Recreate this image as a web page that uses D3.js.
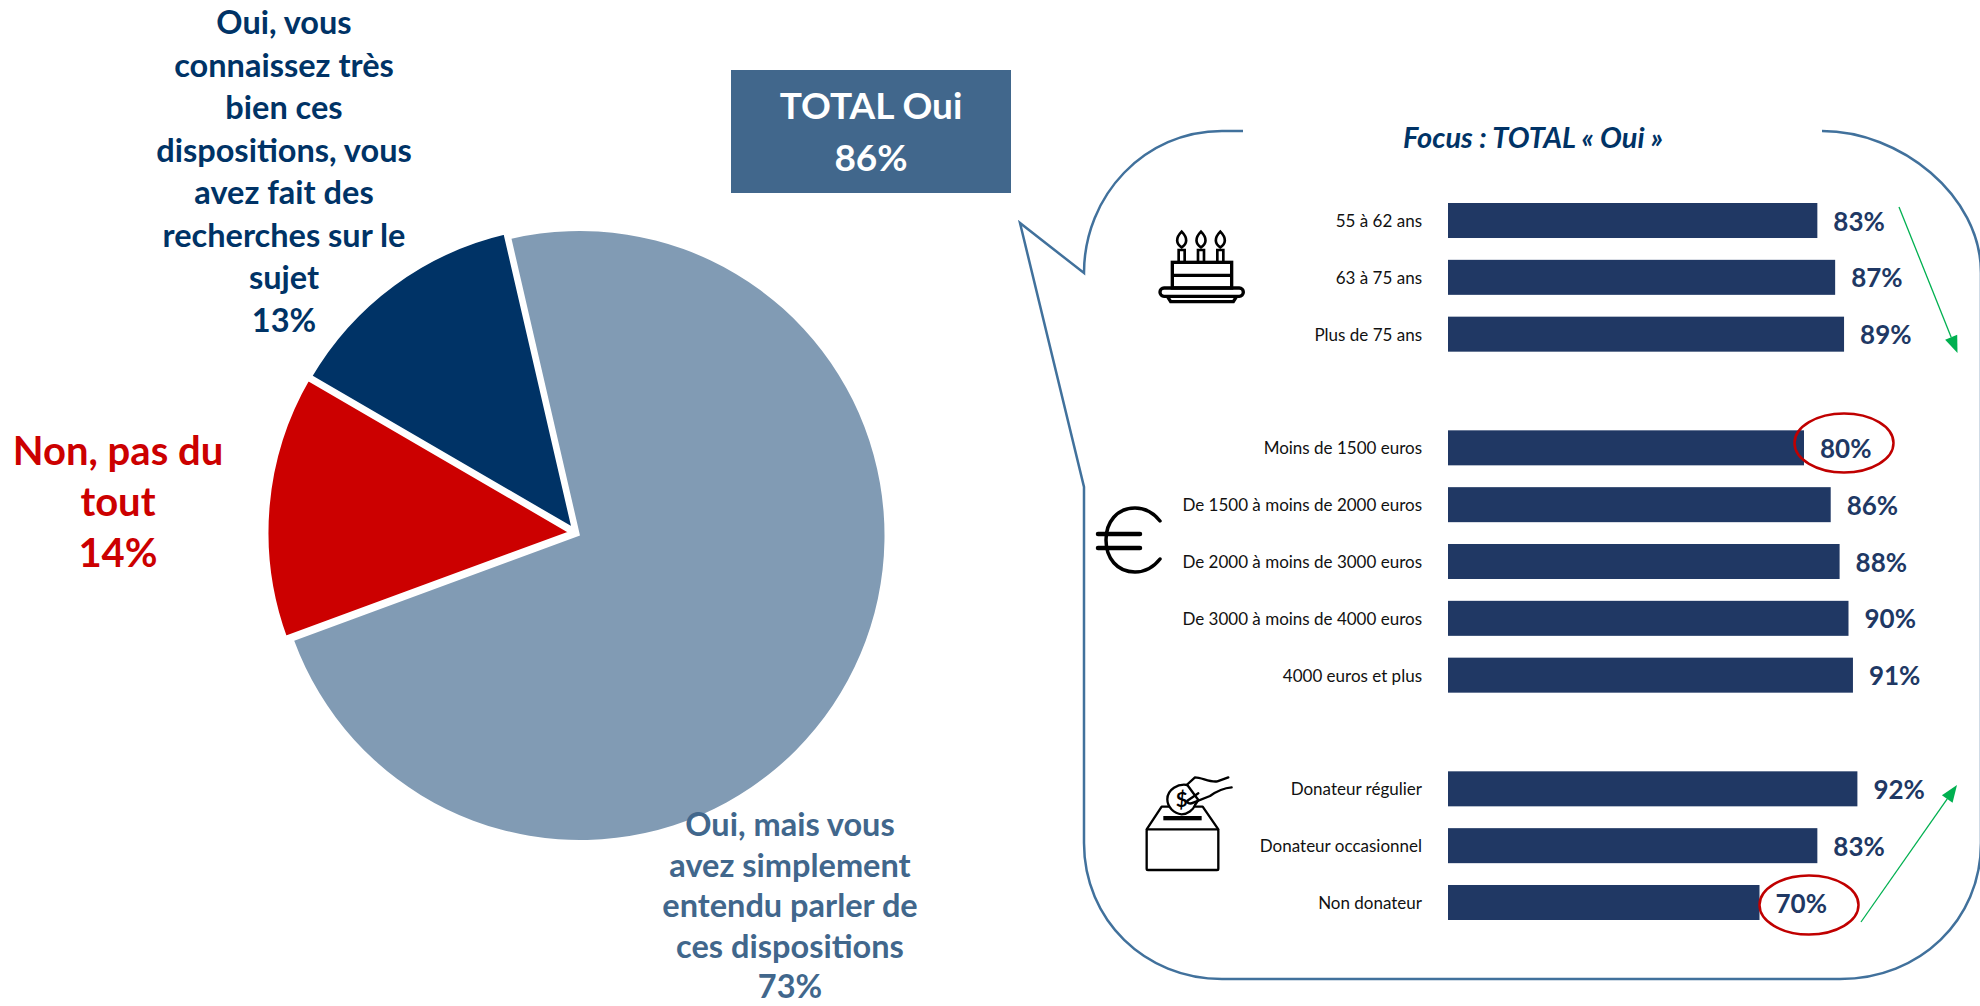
<!DOCTYPE html>
<html lang="fr"><head><meta charset="utf-8">
<script src="https://cdn.jsdelivr.net/npm/d3@7"></script>
<style>html,body{margin:0;background:#fff;overflow:hidden}svg{display:block}text{font-family:Lato,"Open Sans",sans-serif}</style>
</head><body><svg id="c" width="1980" height="1006"></svg>
<script>
const pieLabels = ["Oui, mais vous avez simplement entendu parler de ces dispositions","Non, pas du tout","Oui, vous connaissez très bien ces dispositions, vous avez fait des recherches sur le sujet"];
const pieValues = [73,14,13];
const pieColors = ["#819BB4","#CC0000","#003366"];
const pieLabelLines = [
  ["Oui, mais vous","avez simplement","entendu parler de","ces dispositions","73%"],
  ["Non, pas du","tout","14%"],
  ["Oui, vous","connaissez très","bien ces","dispositions, vous","avez fait des","recherches sur le","sujet","13%"]];
const ageCategories = ["55 à 62 ans","63 à 75 ans","Plus de 75 ans"];
const ageValues = [83,87,89];
const incomeCategories = ["Moins de 1500 euros","De 1500 à moins de 2000 euros","De 2000 à moins de 3000 euros","De 3000 à moins de 4000 euros","4000 euros et plus"];
const incomeValues = [80,86,88,90,91];
const donorCategories = ["Donateur régulier","Donateur occasionnel","Non donateur"];
const donorValues = [92,83,70];
const totalLines = ["TOTAL Oui","86%"];
const focusTitle = "Focus : TOTAL « Oui »";

const svg = d3.select("#c");
/* ---------- pie ---------- */
const cx=580, cy=535.5;
const arcs = d3.pie().sort(null).startAngle(-13*Math.PI/180).endAngle(347*Math.PI/180)(pieValues);
const radius=[304.5,307,307];
const strokeW=[0,5,5];
const explode=[[0,0],[-7,-3],[-5.3,-4.5]];
svg.append("g").attr("transform",`translate(${cx},${cy})`).selectAll("path").data(arcs).join("path")
  .attr("d",(d,i)=>d3.arc().innerRadius(0).outerRadius(radius[i])(d))
  .attr("fill",(d,i)=>pieColors[i]).attr("stroke","#fff").attr("stroke-width",(d,i)=>strokeW[i]).attr("stroke-linejoin","miter")
  .attr("transform",(d,i)=>`translate(${explode[i]})`);
const labelPos=[{x:790,y:825,step:40.5,size:32.5,fill:"#41678C"},{x:118,y:451,step:51,size:40,fill:"#CC0000"},{x:284,y:23,step:42.5,size:32.5,fill:"#003366"}];
pieLabelLines.forEach((lines,i)=>{
  const p=labelPos[i];
  svg.append("g").selectAll("text").data(lines).join("text")
    .attr("x",p.x).attr("y",(d,j)=>p.y+j*p.step).attr("dy",".35em").attr("text-anchor","middle")
    .attr("font-size",p.size).attr("font-weight",700).attr("fill",p.fill).text(d=>d);
});
/* ---------- total box ---------- */
svg.append("rect").attr("x",731).attr("y",70).attr("width",280).attr("height",123).attr("fill","#41678C");
svg.append("g").selectAll("text").data(totalLines).join("text")
  .attr("x",871).attr("y",(d,i)=>106+i*52).attr("dy",".35em").attr("text-anchor","middle")
  .attr("font-size",37).attr("font-weight",700).attr("fill","#fff").text(d=>d);
/* ---------- callout ---------- */
svg.append("path").attr("d","M1243,131 H1222 C1145,131 1084,195 1084,273 L1020,223 L1084,487 V843 C1084,920 1145,979 1222,979 H1840 C1920,979 1981,920 1981,843 V273 C1981,195 1900,131 1822,131")
  .attr("fill","none").attr("stroke","#41719C").attr("stroke-width",2.5);
svg.append("text").attr("x",1533).attr("y",138).attr("dy",".35em").attr("text-anchor","middle")
  .attr("font-size",29).attr("font-weight",700).attr("font-style","italic").attr("fill","#003366").text(focusTitle);
/* ---------- bars ---------- */
const categories=[...ageCategories,...incomeCategories,...donorCategories];
const values=[...ageValues,...incomeValues,...donorValues];
const x=d3.scaleLinear().domain([0,100]).range([1448,1893]);
const y=d3.scaleBand().domain([...ageCategories,"gap1",...incomeCategories,"gap2",...donorCategories])
  .range([203,920]).paddingInner(.384).paddingOuter(0);
const bars=svg.append("g");
bars.selectAll("rect").data(categories).join("rect")
  .attr("x",x(0)).attr("y",d=>y(d)).attr("width",(d,i)=>x(values[i])-x(0)).attr("height",y.bandwidth()).attr("fill","#203864");
bars.selectAll("text").data(categories).join("text")
  .attr("x",(d,i)=>x(values[i])+16).attr("y",d=>y(d)+y.bandwidth()/2+1).attr("dy",".35em")
  .attr("font-size",26).attr("font-weight",700).attr("fill","#203864").text((d,i)=>values[i]+"%");
const axis=svg.append("g").attr("transform",`translate(${x(0)},1)`)
  .call(d3.axisLeft(y).tickValues(categories).tickSize(0).tickPadding(26));
axis.select(".domain").remove();
axis.selectAll("text").attr("font-size",17).attr("fill","#111").style("font-family","Lato,sans-serif");
/* ---------- highlight ellipses ---------- */
svg.append("g").selectAll("ellipse").data([[1844,443],[1809,905]]).join("ellipse")
  .attr("cx",d=>d[0]).attr("cy",d=>d[1]).attr("rx",49.5).attr("ry",29.5)
  .attr("fill","none").attr("stroke","#C00000").attr("stroke-width",2.5);
/* ---------- green arrows ---------- */
const arrow=(x1,y1,x2,y2)=>{
  const a=Math.atan2(y2-y1,x2-x1),L=17,W=6.5;
  const bx=x2-L*Math.cos(a),by=y2-L*Math.sin(a);
  svg.append("line").attr("x1",x1).attr("y1",y1).attr("x2",bx).attr("y2",by).attr("stroke","#00B050").attr("stroke-width",1.3);
  svg.append("path").attr("fill","#00B050").attr("d",`M${x2},${y2}L${bx-W*Math.sin(a)},${by+W*Math.cos(a)}L${bx+W*Math.sin(a)},${by-W*Math.cos(a)}Z`);
};
arrow(1899,207,1957.5,353);
arrow(1861,922,1957,785);
/* ---------- icons ---------- */
const k="#000";
const cake=svg.append("g").attr("transform","translate(1140,220) scale(.3333)").attr("fill","none").attr("stroke",k).attr("stroke-width",10);
[125,183,241].forEach(c=>{
  cake.append("path").attr("d",`M${c},35 C${c+20},55 ${c+16},72 ${c},82 C${c-16},72 ${c-20},55 ${c},35Z`).attr("stroke-width",8);
  cake.append("path").attr("d",`M${c-9},125 V90 H${c+9} V125`).attr("stroke-width",8);
});
cake.append("rect").attr("x",97).attr("y",127).attr("width",178).attr("height",77);
cake.append("line").attr("x1",97).attr("x2",275).attr("y1",166).attr("y2",166);
cake.append("rect").attr("x",60).attr("y",204).attr("width",250).attr("height",25).attr("rx",12);
cake.append("path").attr("d","M82,229 L92,245 H280 L290,229");
const euro=svg.append("g").attr("fill","none").attr("stroke",k).attr("stroke-width",3.5).attr("stroke-linecap","round");
euro.append("path").attr("d","M1160,521 C1152,511 1144,508 1135,508 C1117,508 1106,522 1106,540 C1106,558 1117,572 1135,572 C1144,572 1153,568 1160,559");
euro.append("path").attr("d","M1098,534 H1140 M1098,548 H1140").attr("stroke-width",4.5);
const box=svg.append("g").attr("transform","translate(1130,760) scale(.3333)").attr("fill","none").attr("stroke",k).attr("stroke-width",7).attr("stroke-linejoin","round").attr("stroke-linecap","round");
box.append("rect").attr("x",50).attr("y",208).attr("width",215).attr("height",122).attr("rx",4);
box.append("path").attr("d","M50,208 L95,140 H118 M196,140 H218 L265,208");
box.append("rect").attr("x",100).attr("y",168).attr("width",115).attr("height",13).attr("fill",k).attr("stroke","none");
box.append("path").attr("fill","#fff").attr("d","M172,75 C145,70 112,88 112,118 C112,142 132,160 155,163 C172,163 190,150 195,135 L205,120 Z");
box.append("path").attr("d","M170,75 L195,52 C215,52 240,68 262,64 L295,52 M305,82 C280,84 262,92 240,108 L190,128 C178,134 170,128 172,122 L205,100");
box.append("text").attr("x",155).attr("y",118).attr("dy",".36em").attr("text-anchor","middle").attr("font-size",62).attr("font-weight",700).attr("fill",k).attr("stroke","none").text("$");
</script></body></html>
